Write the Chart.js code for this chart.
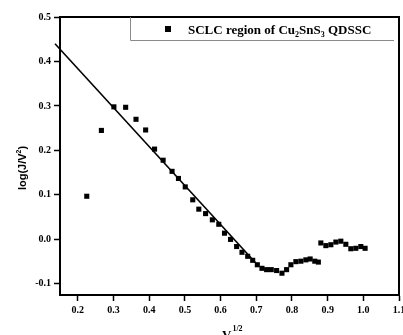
<!DOCTYPE html>
<html>
<head>
<meta charset="utf-8">
<script src="https://cdn.jsdelivr.net/npm/chart.js@4/dist/chart.umd.min.js"></script>
<style>
  html, body { margin: 0; padding: 0; background: #fff; }
  #wrap { width: 403px; height: 335px; }
</style>
</head>
<body>
<div id="wrap"><canvas id="sclcChart"></canvas></div>
<script>
// V^(1/2) and log(J/V^2) of the measured points
const sqrtV = [0.225, 0.266, 0.301, 0.334, 0.363, 0.390, 0.415, 0.439, 0.464, 0.482,
  0.501, 0.522, 0.539, 0.558, 0.577, 0.595, 0.611, 0.628, 0.645, 0.660,
  0.676, 0.690, 0.703, 0.716, 0.729, 0.742, 0.757, 0.772, 0.785, 0.797,
  0.811, 0.825, 0.839, 0.851, 0.864, 0.874, 0.881, 0.895, 0.909, 0.923,
  0.937, 0.951, 0.965, 0.979, 0.993, 1.005];
const logJV2 = [0.097, 0.245, 0.298, 0.297, 0.270, 0.246, 0.203, 0.178, 0.153, 0.137,
  0.118, 0.089, 0.068, 0.058, 0.044, 0.034, 0.014, 0.000, -0.016, -0.029,
  -0.038, -0.047, -0.057, -0.065, -0.068, -0.068, -0.070, -0.076, -0.068, -0.057,
  -0.050, -0.049, -0.046, -0.044, -0.049, -0.051, -0.008, -0.014, -0.012, -0.006,
  -0.004, -0.011, -0.021, -0.020, -0.016, -0.020];

// linear fit through the SCLC region (end points)
const fitX = [0.136, 0.700];
const fitY = [0.440, -0.054];

const xTicks = [0.2, 0.3, 0.4, 0.5, 0.6, 0.7, 0.8, 0.9, 1.0, 1.1];
const yTicks = [-0.1, 0.0, 0.1, 0.2, 0.3, 0.4, 0.5];

// frame, axis titles and the legend box
const decorations = {
  id: "decorations",
  afterDraw(chart) {
    const ctx = chart.ctx;
    const a = chart.chartArea;
    ctx.save();
    ctx.strokeStyle = "#000";
    ctx.lineWidth = 2;
    ctx.strokeRect(a.left, a.top, a.right - a.left, a.bottom - a.top);

    // legend
    const boxL = 130, boxB = 40;
    ctx.strokeStyle = "#8a8a8a";
    ctx.lineWidth = 1;
    ctx.beginPath();
    ctx.moveTo(boxL + 0.5, a.top);
    ctx.lineTo(boxL + 0.5, boxB + 0.5);
    ctx.lineTo(a.right - 5, boxB + 0.5);
    ctx.stroke();
    ctx.fillStyle = "#000";
    ctx.fillRect(165, 26, 6, 6);

    ctx.textBaseline = "alphabetic";
    ctx.textAlign = "left";
    const big = "bold 13px 'Liberation Serif', serif";
    const small = "bold 8px 'Liberation Serif', serif";
    const parts = [
      ["SCLC region of Cu", big, 0],
      ["2", small, 3],
      ["SnS", big, 0],
      ["3", small, 3],
      [" QDSSC", big, 0]
    ];
    let x = 188;
    parts.forEach(([t, f, dy]) => {
      ctx.font = f;
      ctx.fillText(t, x, 34 + dy);
      x += ctx.measureText(t).width;
    });

    // x title V^(1/2)
    ctx.font = "bold 13px 'Liberation Serif', serif";
    const vw = ctx.measureText("V").width;
    ctx.fillText("V", 222, 339);
    ctx.font = "bold 8px 'Liberation Serif', serif";
    ctx.fillText("1/2", 222 + vw + 1, 331);

    // y title log(J/V^2)
    ctx.translate(22, 168);
    ctx.rotate(-Math.PI / 2);
    const yBig = "bold 11px 'Liberation Sans', Arial, sans-serif";
    const ySmall = "bold 7px 'Liberation Sans', Arial, sans-serif";
    const t1 = "log(J/V";
    ctx.font = yBig;
    const w1 = ctx.measureText(t1).width;
    const w3 = ctx.measureText(")").width;
    ctx.font = ySmall;
    const w2 = ctx.measureText("2").width;
    const sx = -(w1 + w2 + w3) / 2;
    ctx.font = yBig;
    ctx.fillText(t1, sx, 4);
    ctx.fillText(")", sx + w1 + w2, 4);
    ctx.font = ySmall;
    ctx.fillText("2", sx + w1, -1);
    ctx.restore();
  }
};

const tickFont = { family: "'Liberation Serif', serif", size: 10, weight: "bold" };

new Chart(document.getElementById("sclcChart").getContext("2d"), {
  type: "scatter",
  data: {
    datasets: [
      {
        label: "SCLC region",
        data: sqrtV.map((v, i) => ({ x: v, y: logJV2[i] })),
        pointStyle: "rect",
        pointRadius: 3.6,
        backgroundColor: "#000",
        borderColor: "#000",
        borderWidth: 0
      },
      {
        label: "fit",
        data: fitX.map((v, i) => ({ x: v, y: fitY[i] })),
        showLine: true,
        pointRadius: 0,
        borderColor: "#000",
        borderWidth: 1.6,
        clip: false
      }
    ]
  },
  options: {
    responsive: true,
    maintainAspectRatio: false,
    animation: false,
    devicePixelRatio: 1,
    layout: { padding: { top: 17, right: 3, left: 0, bottom: 0 } },
    plugins: { legend: { display: false }, tooltip: { enabled: false } },
    scales: {
      x: {
        type: "linear",
        min: 0.15,
        max: 1.1,
        afterBuildTicks: s => { s.ticks = xTicks.map(v => ({ value: v })); },
        afterFit: s => {
          s.height = 40;
          // let the last label run off the canvas edge
          s.paddingLeft = 0;
          s.paddingRight = 0;
        },
        grid: { drawOnChartArea: false, tickLength: 6, tickColor: "#000", tickWidth: 1.5 },
        border: { display: true, color: "#000", width: 2 },
        ticks: {
          color: "#000",
          font: tickFont,
          padding: 3,
          maxRotation: 0,
          autoSkip: false,
          callback: v => v.toFixed(1)
        }
      },
      y: {
        type: "linear",
        min: -0.125,
        max: 0.5,
        afterBuildTicks: s => { s.ticks = yTicks.map(v => ({ value: v })); },
        afterFit: s => { s.width = 60; },
        grid: { drawOnChartArea: false, tickLength: 6, tickColor: "#000", tickWidth: 1.5 },
        border: { display: true, color: "#000", width: 2 },
        ticks: {
          color: "#000",
          font: tickFont,
          padding: 3,
          autoSkip: false,
          callback: v => v.toFixed(1)
        }
      }
    }
  },
  plugins: [decorations]
});
</script>
</body>
</html>
